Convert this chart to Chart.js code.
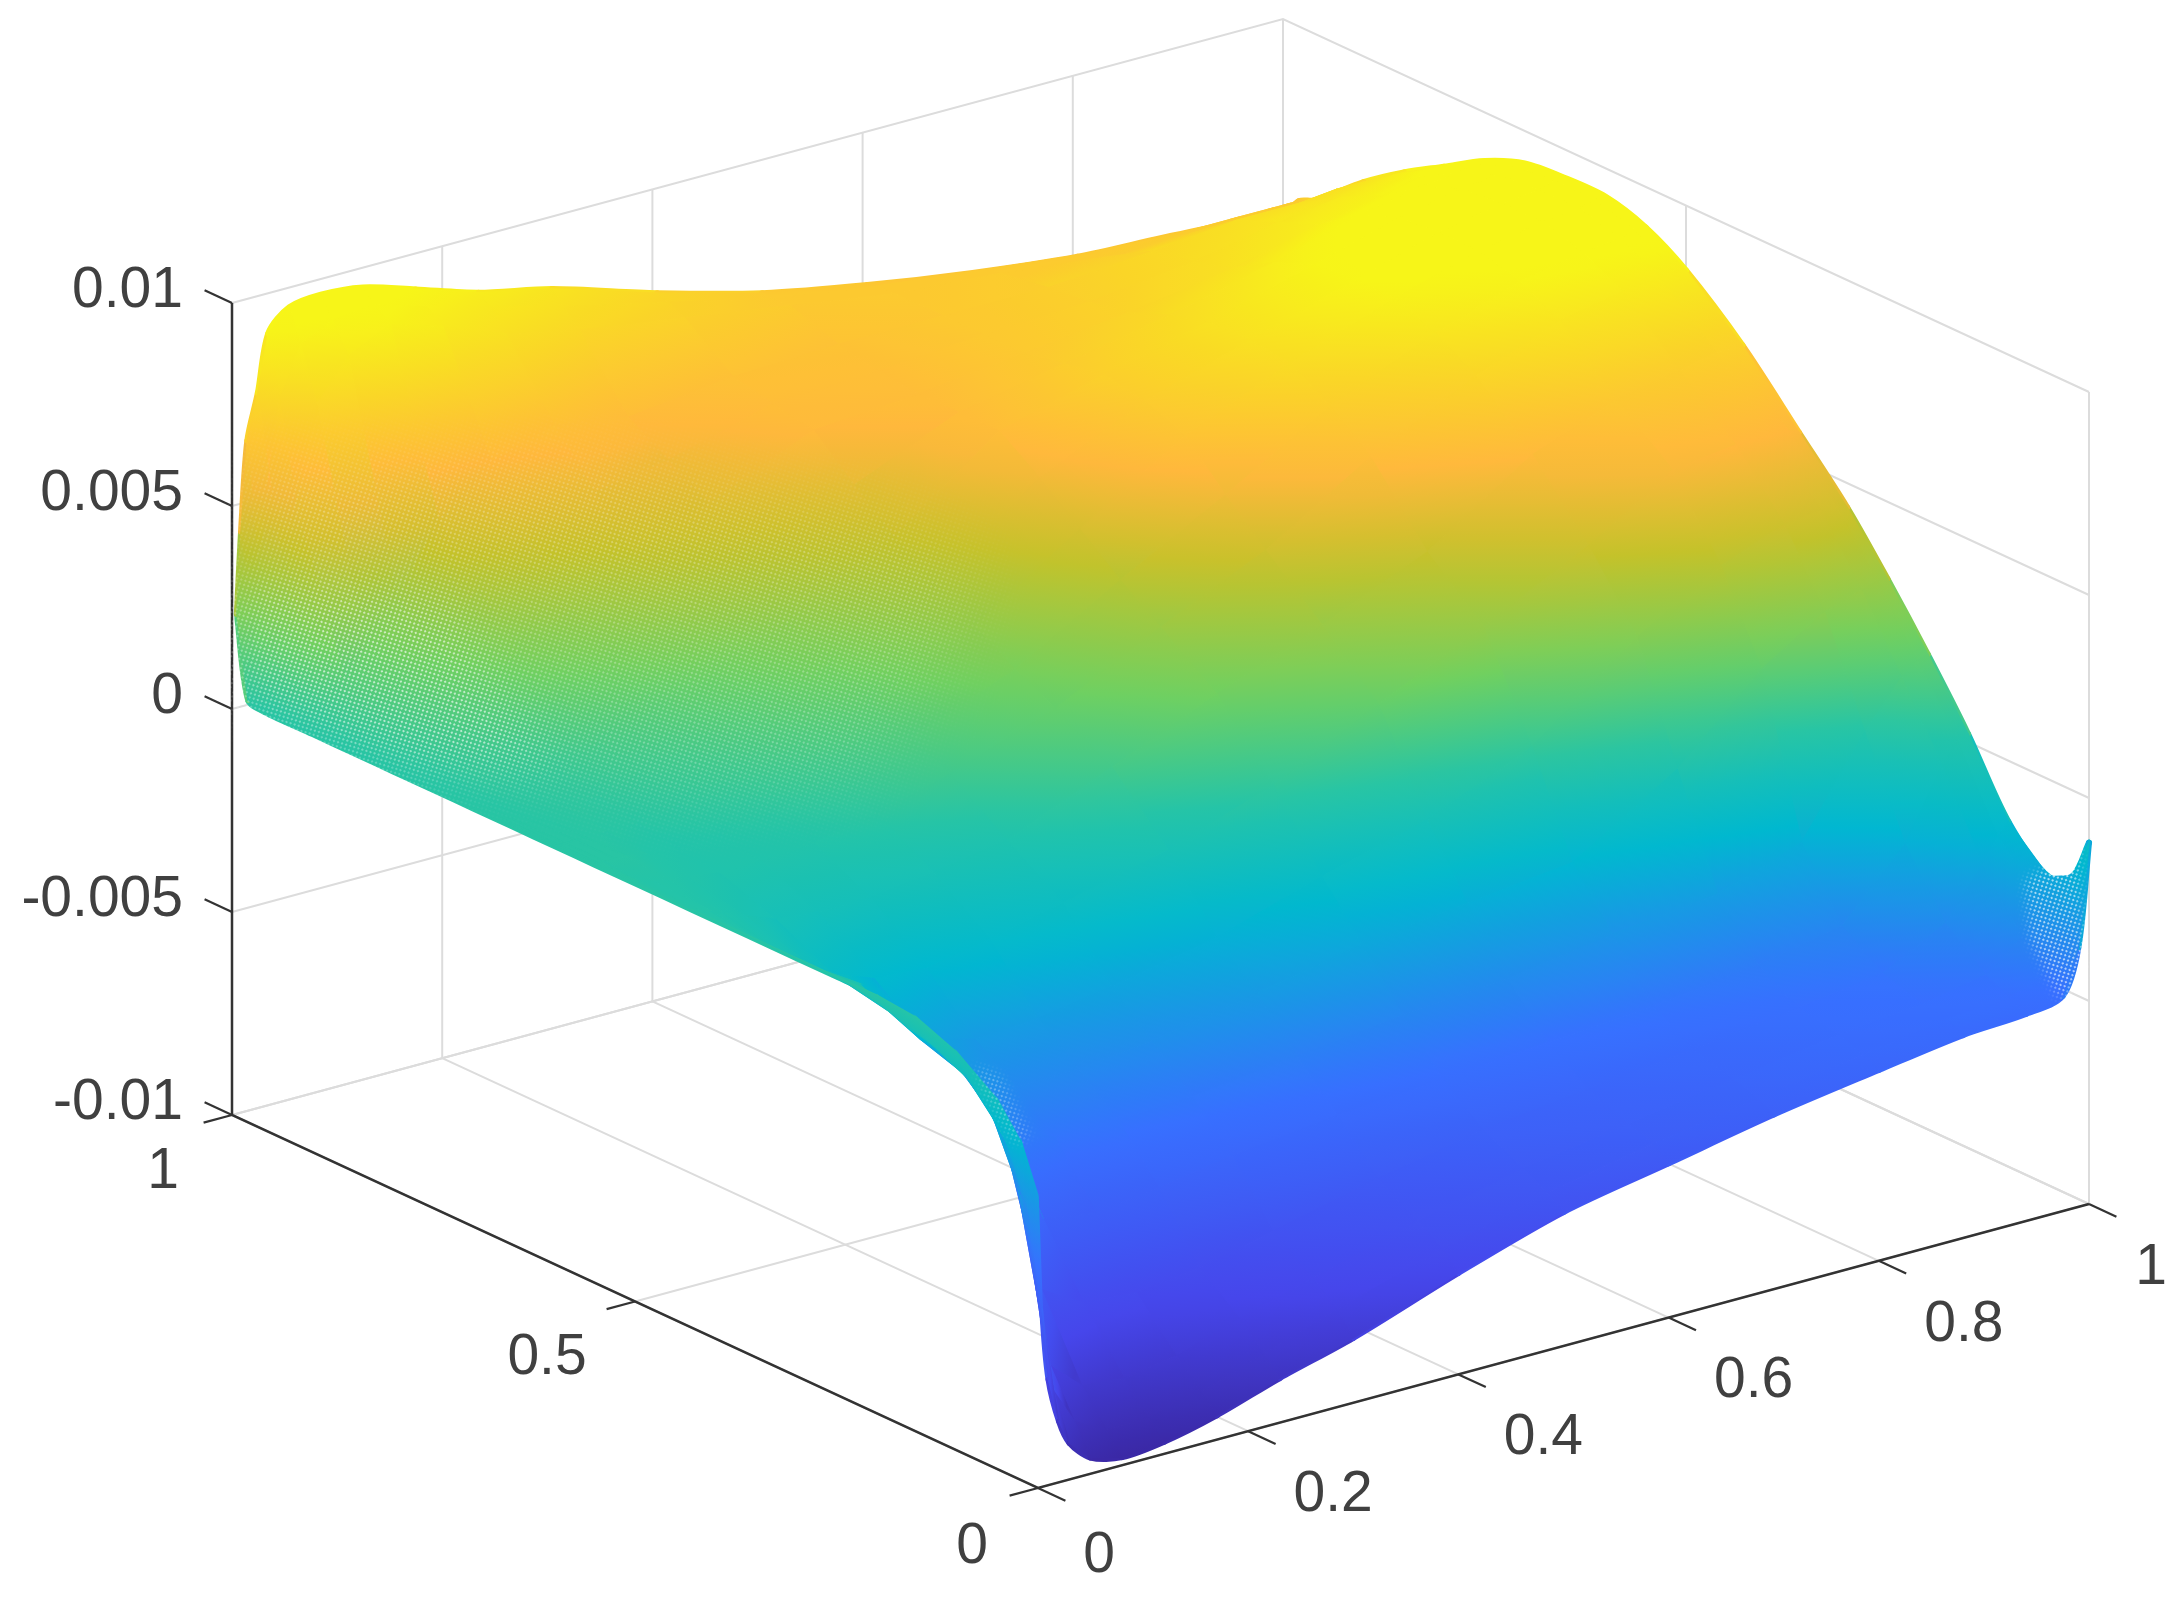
<!DOCTYPE html>
<html>
<head>
<meta charset="utf-8">
<title>Surface</title>
<script src="https://cdn.jsdelivr.net/npm/chart.js@4"></script>
<style>
  html, body { margin: 0; padding: 0; background: #fff; }
  canvas { display: block; }
</style>
</head>
<body>
<canvas id="surface" width="2178" height="1601"></canvas>
<script>
const xTicks = [0, 0.2, 0.4, 0.6, 0.8, 1];
const yTicks = [0, 0.5, 1];
const zTicks = [-0.01, -0.005, 0, 0.005, 0.01];
const xTickLabels = ['0', '0.2', '0.4', '0.6', '0.8', '1'];
const yTickLabels = ['0', '0.5', '1'];
const zTickLabels = ['-0.01', '-0.005', '0', '0.005', '0.01'];

// sample positions, denser where the surface bends fast
const xGrid = [0, 0.004, 0.01, 0.02, 0.03, 0.05, 0.08, 0.12, 0.17, 0.23, 0.3, 0.4, 0.5, 0.6, 0.7, 0.8, 0.88, 0.94, 0.975, 0.99, 1];
const yGrid = [0, 0.02, 0.05, 0.1, 0.15, 0.2, 0.25, 0.3, 0.36, 0.43, 0.5, 0.55, 0.6, 0.65, 0.7, 0.75, 0.8, 0.85, 0.9, 0.96, 0.98, 0.994];

// one row per yGrid entry, one value per xGrid entry
const zRows = [
  [-.0028, -.0056, -.0074, -.0085, -.0091, -.0096, -.0098, -.0097, -.0094, -.0089, -.0084, -.0075, -.0067, -.0062, -.0057, -.0053, -.005, -.0049, -.0047, -.0036, -.0011],
  [-.0017, -.003, -.004, -.0065, -.008, -.0089, -.0093, -.0093, -.009, -.0085, -.0079, -.0071, -.0064, -.0059, -.0055, -.0051, -.0048, -.0047, -.0043, -.0032, -.0021],
  [-.0009, -.0017, -.002, -.0028, -.004, -.0078, -.0085, -.0086, -.0084, -.0079, -.0074, -.0067, -.0061, -.0057, -.0053, -.0049, -.0047, -.0044, -.0037, -.0029, -.0024],
  [-.0002, -.0005, -.0009, -.0012, -.0017, -.0028, -.0066, -.0072, -.0073, -.0071, -.0067, -.0061, -.0056, -.0053, -.005, -.0047, -.0044, -.0036, -.0024, -.0018, -.0015],
  [.0002, 0, -.0004, -.0007, -.0009, -.0016, -.003, -.0056, -.0058, -.0056, -.0053, -.005, -.0048, -.0046, -.0044, -.0041, -.0037, -.0021, -.0004, .0001, .0002],
  [.0003, .0002, -.0001, -.0004, -.0007, -.0011, -.002, -.0038, -.0044, -.0044, -.0043, -.004, -.0037, -.0035, -.0031, -.0028, -.0021, .0002, .0013, .0016, .0017],
  [.0003, .0002, .0001, 0, -.0003, -.0009, -.0018, -.0029, -.0036, -.0036, -.0034, -.0029, -.0024, -.0021, -.0018, -.0002, .0017, .0027, .003, .0031, .0031],
  [.0003, .0002, .0001, -.0001, -.0003, -.0007, -.0013, -.0025, -.0029, -.0028, -.0025, -.002, -.0012, -.0005, .0006, .0026, .0038, .0044, .0045, .0045, .0044],
  [.0003, .0002, .0001, -.0001, -.0003, -.0006, -.0012, -.0016, -.0017, -.0014, -.001, -.0004, .0005, .0018, .003, .0043, .0056, .0058, .0058, .0058, .0057],
  [.0003, .0002, .0002, .0001, 0, -.0002, -.0005, -.0006, -.0006, -.0004, -.0001, .001, .0021, .0031, .0042, .0059, .0067, .007, .0072, .0072, .0072],
  [.0003, .0003, .0002, .0002, .0002, .0001, 0, 0, .0001, .0004, .0009, .0018, .0031, .0043, .0059, .0072, .008, .0083, .0084, .0084, .0084],
  [.0003, .0003, .0003, .0003, .0003, .0002, .0001, .0002, .0004, .0008, .0013, .0023, .0038, .0052, .0067, .0078, .0085, .0088, .0089, .009, .009],
  [.0003, .0003, .0003, .0003, .0003, .0003, .0003, .0005, .0008, .0012, .0017, .0029, .0046, .0062, .0073, .0082, .0088, .0091, .0092, .0093, .0093],
  [.0003, .0003, .0003, .0003, .0003, .0004, .0005, .0008, .0011, .0016, .0022, .0035, .0054, .0066, .0074, .0082, .0088, .0091, .0092, .0093, .0093],
  [.0003, .0003, .0003, .0003, .0004, .0005, .0007, .0011, .0015, .002, .0028, .0042, .0061, .0068, .0074, .0081, .0087, .009, .0091, .0092, .0092],
  [.0003, .0003, .0003, .0004, .0006, .0008, .0011, .0017, .0022, .003, .0038, .005, .0061, .0066, .0071, .0077, .0083, .0086, .0087, .0088, .0088],
  [.0003, .0003, .0004, .0006, .0008, .0012, .0017, .0024, .0031, .004, .0048, .0059, .0061, .0064, .0067, .0071, .0076, .0079, .0081, .0082, .0082],
  [.0003, .0003, .0005, .0008, .0011, .0016, .0023, .0035, .0044, .0051, .0054, .0061, .0062, .0064, .0065, .0068, .0072, .0074, .0075, .0076, .0076],
  [.0003, .0004, .0006, .0011, .0015, .002, .0031, .0047, .0058, .0063, .006, .0063, .0064, .0064, .0064, .0066, .0068, .0068, .0069, .0069, .0069],
  [.0003, .0006, .0014, .0032, .0052, .0075, .0085, .009, .0086, .008, .0076, .0072, .0068, .0064, .0062, .0059, .0059, .0059, .0059, .0059, .0059],
  [.0004, .0012, .0032, .0058, .0076, .0088, .0092, .0093, .0089, .0085, .008, .0074, .0068, .0064, .0061, .0058, .0057, .0057, .0057, .0057, .0057],
  [.0024, .0044, .0066, .0077, .0091, .0096, .0097, .0096, .0092, .0087, .0083, .0075, .0068, .0063, .0059, .0056, .0055, .0054, .0053, .0053, .0053]
];

// colormap stops, z value and colour
const colorZ = [-.0098, -.0076, -.0046, -.0017, .0002, .0021, .0041, .0058, .0074, .0092];
const colorRGB = [[58, 40, 165], [70, 70, 235], [55, 112, 255], [0, 184, 208], [36, 196, 168], [112, 208, 96], [196, 194, 42], [255, 184, 60], [250, 212, 40], [247, 245, 24]];

function zColor(z) {
  let i = 0;
  while (i < colorZ.length - 2 && z > colorZ[i + 1]) i++;
  const t = Math.min(1, Math.max(0, (z - colorZ[i]) / (colorZ[i + 1] - colorZ[i])));
  const c = colorRGB[i].map((v, k) => Math.round(v + (colorRGB[i + 1][k] - v) * t));
  return `rgb(${c[0]},${c[1]},${c[2]})`;
}

function clamp01(v) {
  return Math.min(1, Math.max(0, v));
}

// the far right of the ridge reads a touch yellower than its height alone gives
function colorKey(x, y, z) {
  return z + 0.0012 * clamp01((x - 0.5) / 0.35) * clamp01((y - 0.45) / 0.2);
}

// orthographic view of the unit box, in page pixels
function project(x, y, z) {
  return {
    x: 1038 + 1051 * x - 806 * y,
    y: 1488 - 284 * x - 373 * y - (z + 0.01) * 40600
  };
}

function shadeQuad(ctx) {
  const ds = ctx.dataset;
  if (ds.shade) return ds.shade;
  const p = ds.data, zs = ds.quadKeys;
  const zMin = Math.min(...zs), zMax = Math.max(...zs);
  const d1x = p[2].x - p[0].x, d1y = p[2].y - p[0].y, dz1 = zs[2] - zs[0];
  const d2x = p[3].x - p[1].x, d2y = p[3].y - p[1].y, dz2 = zs[3] - zs[1];
  const det = d1x * d2y - d1y * d2x;
  if (zMax - zMin < 1e-7 || Math.abs(det) < 0.5) {
    ds.shade = zColor((zMin + zMax) / 2);
    return ds.shade;
  }
  const gx = (dz1 * d2y - dz2 * d1y) / det, gy = (d1x * dz2 - d2x * dz1) / det;
  const g2 = gx * gx + gy * gy;
  const cx = (p[0].x + p[1].x + p[2].x + p[3].x) / 4, cy = (p[0].y + p[1].y + p[2].y + p[3].y) / 4;
  const zc = (zs[0] + zs[1] + zs[2] + zs[3]) / 4;
  const a = (zMin - zc) / g2, b = (zMax - zc) / g2;
  const grad = ctx.chart.ctx.createLinearGradient(cx + gx * a, cy + gy * a, cx + gx * b, cy + gy * b);
  for (let s = 0; s <= 4; s++) grad.addColorStop(s / 4, zColor(zMin + (zMax - zMin) * s / 4));
  ds.shade = grad;
  return grad;
}

function surfaceDatasets() {
  const out = [];
  // far corner first, x=0 y=0 is nearest the viewer
  for (let j = yGrid.length - 2; j >= 0; j--) {
    for (let i = xGrid.length - 2; i >= 0; i--) {
      const corners = [[i, j], [i + 1, j], [i + 1, j + 1], [i, j + 1]];
      const pts = corners.map(c => project(xGrid[c[0]], yGrid[c[1]], zRows[c[1]][c[0]]));
      out.push({
        data: pts.concat([pts[0]]),
        quadKeys: corners.map(c => colorKey(xGrid[c[0]], yGrid[c[1]], zRows[c[1]][c[0]])),
        fill: 'shape',
        backgroundColor: shadeQuad,
        borderColor: shadeQuad,
        borderWidth: 1.5,
        pointRadius: 0
      });
    }
  }
  return out;
}

// soft curved rim along the four edges, sits under the quads
function rimDataset(xs, ys, zs) {
  const pts = xs.map((x, i) => project(x, ys[i], zs[i]));
  const keys = xs.map((x, i) => colorKey(x, ys[i], zs[i]));
  return {
    data: pts,
    tension: 0.3,
    fill: false,
    borderWidth: 6,
    borderColor: '#888',
    borderCapStyle: 'round',
    pointRadius: 0,
    segment: { borderColor: c => zColor((keys[c.p0DataIndex] + keys[c.p1DataIndex]) / 2) }
  };
}

function rimDatasets() {
  const last = xGrid.length - 1, top = yGrid.length - 1;
  return [
    rimDataset(xGrid, xGrid.map(() => yGrid[top]), zRows[top]),
    rimDataset(xGrid, xGrid.map(() => 0), zRows[0]),
    rimDataset(yGrid.map(() => 1), yGrid, zRows.map(r => r[last])),
    rimDataset(yGrid.map(() => 0), yGrid, zRows.map(r => r[0]))
  ];
}

function axisLine(points, color, width) {
  return { data: points, borderColor: color, borderWidth: width, pointRadius: 0, fill: false };
}

const gridColor = '#dcdcdc';
const axisColor = '#333333';

function boxDatasets() {
  const out = [];
  const zLo = zTicks[0], zHi = zTicks[zTicks.length - 1];
  xTicks.forEach(x => {
    out.push(axisLine([project(x, 0, zLo), project(x, 1, zLo), project(x, 1, zHi)], gridColor, 2));
  });
  yTicks.forEach(y => {
    out.push(axisLine([project(0, y, zLo), project(1, y, zLo), project(1, y, zHi)], gridColor, 2));
  });
  zTicks.forEach(z => {
    out.push(axisLine([project(0, 1, z), project(1, 1, z), project(1, 0, z)], gridColor, 2));
  });
  // dark axes and tick marks
  out.push(axisLine([project(0, 1, zHi), project(0, 1, zLo), project(0, 0, zLo), project(1, 0, zLo)], axisColor, 2.5));
  xTicks.forEach(x => {
    out.push(axisLine([project(x, 0, zLo), project(x, -0.034, zLo)], axisColor, 2.2));
  });
  yTicks.forEach(y => {
    out.push(axisLine([project(0, y, zLo), project(-0.027, y, zLo)], axisColor, 2.2));
  });
  zTicks.forEach(z => {
    out.push(axisLine([project(0, 1, z), project(0, 1.034, z)], axisColor, 2.2));
  });
  return out;
}

// the reference mesh lets the page show through where it faces the viewer,
// drawn as a soft dotted veil on top of the painted surface only
const veils = [
  { alpha: 0.45, blur: 30, path: [[250, 470], [597, 470], [889, 520], [975, 565], [950, 650], [860, 780], [680, 800], [440, 760], [250, 690]] },
  { alpha: 1, blur: 22, path: [[243, 583], [444, 597], [560, 770], [417, 770], [243, 700]] },
  { alpha: 1, blur: 5, path: [[2025, 880], [2080, 845], [2084, 975], [2060, 1000], [2030, 940]] },
  { alpha: 0.5, blur: 4, path: [[975, 1065], [1000, 1075], [1030, 1135], [1015, 1145], [985, 1095]] }
];

const meshVeil = {
  id: 'meshVeil',
  afterDatasetsDraw(chart) {
    const w = chart.width, h = chart.height;
    const tile = document.createElement('canvas');
    tile.width = 6;
    tile.height = 6;
    const t = tile.getContext('2d');
    t.fillStyle = 'rgba(255,255,255,0.62)';
    t.fillRect(0, 0, 2, 2);
    t.fillRect(3, 3, 2, 2);

    const layer = document.createElement('canvas');
    layer.width = w;
    layer.height = h;
    const l = layer.getContext('2d');
    const pat = l.createPattern(tile, 'repeat');
    pat.setTransform(new DOMMatrix().rotate(-28));
    l.fillStyle = pat;
    l.fillRect(0, 0, w, h);

    const mask = document.createElement('canvas');
    mask.width = w;
    mask.height = h;
    const m = mask.getContext('2d');
    veils.forEach(v => {
      m.filter = `blur(${v.blur}px)`;
      m.fillStyle = `rgba(0,0,0,${v.alpha})`;
      m.beginPath();
      v.path.forEach((p, i) => (i ? m.lineTo(p[0], p[1]) : m.moveTo(p[0], p[1])));
      m.closePath();
      m.fill();
    });
    l.globalCompositeOperation = 'destination-in';
    l.drawImage(mask, 0, 0);

    const c = chart.ctx;
    c.save();
    c.globalCompositeOperation = 'source-atop';
    c.drawImage(layer, 0, 0);
    c.restore();
  }
};

const tickText = {
  id: 'tickText',
  afterDraw(chart) {
    const c = chart.ctx, sx = chart.scales.x, sy = chart.scales.y;
    const put = (p, dx, dy, text, align) => {
      c.textAlign = align;
      c.fillText(text, sx.getPixelForValue(p.x) + dx, sy.getPixelForValue(p.y) + dy);
    };
    c.save();
    c.font = '57px "Liberation Sans", Arial, sans-serif';
    c.fillStyle = '#404040';
    c.textBaseline = 'middle';
    const zLo = zTicks[0];
    zTicks.forEach((z, i) => put(project(0, 1, z), -49, -12, zTickLabels[i], 'right'));
    yTicks.forEach((y, i) => {
      const p = project(0, y, zLo);
      if (y === 0) put(p, -66, 59, yTickLabels[i], 'center');
      else if (y === 1) put(p, -69, 57, yTickLabels[i], 'center');
      else put(p, -88, 57, yTickLabels[i], 'center');
    });
    xTicks.forEach((x, i) => {
      const p = project(x, 0, zLo);
      const dx = x === 0 ? 61 : x === 1 ? 62 : 85;
      put(p, dx, x === 0 ? 68 : 64, xTickLabels[i], 'center');
    });
    c.restore();
  }
};

// chart.js paints dataset 0 last, so the nearest quads come first in the list
const datasets = surfaceDatasets().reverse().concat(rimDatasets(), boxDatasets().reverse());

new Chart(document.getElementById('surface').getContext('2d'), {
  type: 'scatter',
  data: { datasets: datasets.map(d => Object.assign({ showLine: true, tension: 0 }, d)) },
  options: {
    responsive: false,
    animation: false,
    events: [],
    layout: { padding: 0 },
    scales: {
      x: { type: 'linear', min: 0, max: 2178, display: false },
      y: { type: 'linear', min: 0, max: 1601, reverse: true, display: false }
    },
    plugins: { legend: { display: false }, tooltip: { enabled: false }, title: { display: false } }
  },
  plugins: [meshVeil, tickText]
});
</script>
</body>
</html>
